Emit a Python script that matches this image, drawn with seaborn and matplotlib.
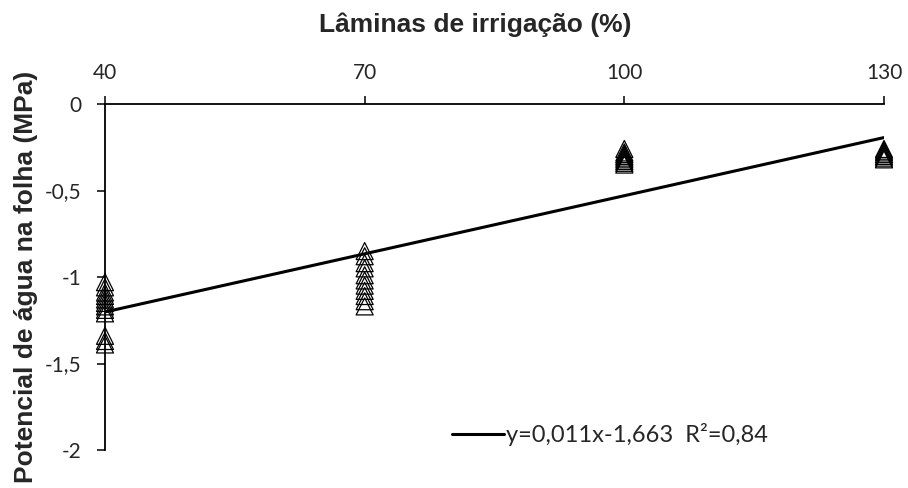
import numpy as np
import pandas as pd
import matplotlib
matplotlib.use("Agg")
import matplotlib.pyplot as plt
import seaborn as sns

# =========================================
# DATA
# =========================================
laminas = [40, 70, 100, 130]

psi_40 = [-1.03, -1.06, -1.09, -1.11, -1.13, -1.15, -1.17, -1.19, -1.21, -1.34, -1.37, -1.39]
psi_70 = [-0.85, -0.88, -0.92, -0.95, -0.99, -1.02, -1.05, -1.08, -1.11, -1.14, -1.17]
psi_100 = [-0.26, -0.28, -0.29, -0.30, -0.31, -0.32, -0.33, -0.34, -0.35]
psi_130 = [-0.26, -0.27, -0.28, -0.29, -0.30, -0.31, -0.32]

slope = 0.0112
intercept = -1.65
eq_label = "y=0,011x-1,663  R²=0,84"

x_ticks = [40, 70, 100, 130]
y_ticks = [0, -0.5, -1, -1.5, -2]
y_tick_labels = ["0", "-0,5", "-1", "-1,5", "-2"]

# =========================================
# BUILD TABLE
# =========================================
rows = []
for lam, vals in zip(laminas, [psi_40, psi_70, psi_100, psi_130]):
    for v in vals:
        rows.append({"lamina": lam, "psi": v})
df = pd.DataFrame(rows)

fit = pd.DataFrame({"lamina": [laminas[0], laminas[-1]]})
fit["psi"] = slope * fit["lamina"] + intercept

# =========================================
# PLOT
# =========================================
sns.set_style("white")
plt.rcParams["font.family"] = ["Lato", "DejaVu Sans"]

fig = plt.figure(figsize=(9.08, 4.88), dpi=100)
ax = fig.add_axes([105 / 908, 1 - 450 / 488, (884 - 105) / 908, (450 - 104) / 488])

sns.scatterplot(data=df, x="lamina", y="psi", ax=ax, marker="^", s=150,
                facecolor="none", edgecolor="black", linewidth=0.9, legend=False,
                zorder=3, clip_on=False)
sns.lineplot(data=fit, x="lamina", y="psi", ax=ax, color="black", linewidth=2.2,
             label=eq_label, zorder=4)

ax.set_xlim(40, 130)
ax.set_ylim(-2, 0)
ax.set_xticks(x_ticks)
ax.set_yticks(y_ticks)
ax.set_yticklabels(y_tick_labels)
ax.xaxis.tick_top()
ax.tick_params(axis="x", direction="out", length=6, width=1.3, labelsize=15, pad=9,
               top=True, bottom=False)
ax.tick_params(axis="y", direction="out", length=6, width=1.3, labelsize=15, pad=11,
               left=True)

for side in ["right", "bottom"]:
    ax.spines[side].set_visible(False)
for side in ["top", "left"]:
    ax.spines[side].set_linewidth(1.3)
    ax.spines[side].set_color("black")

ax.set_xlabel("")
ax.set_ylabel("")

fig.text(475 / 908, 1 - 25 / 488, "Lâminas de irrigação (%)", ha="center", va="center",
         fontsize=19, fontweight="bold", family=["Liberation Sans", "DejaVu Sans"])
fig.text(26 / 908, 1 - 277 / 488, "Potencial de água na folha (MPa)", ha="center",
         va="center", rotation=90, fontsize=19, fontweight="bold",
         family=["Liberation Sans", "DejaVu Sans"])

leg = ax.legend(loc="lower left", bbox_to_anchor=(0.418, -0.05), frameon=False,
                fontsize=17, handlelength=2.2, handletextpad=0.1)

fig.savefig("out.png", dpi=100)
